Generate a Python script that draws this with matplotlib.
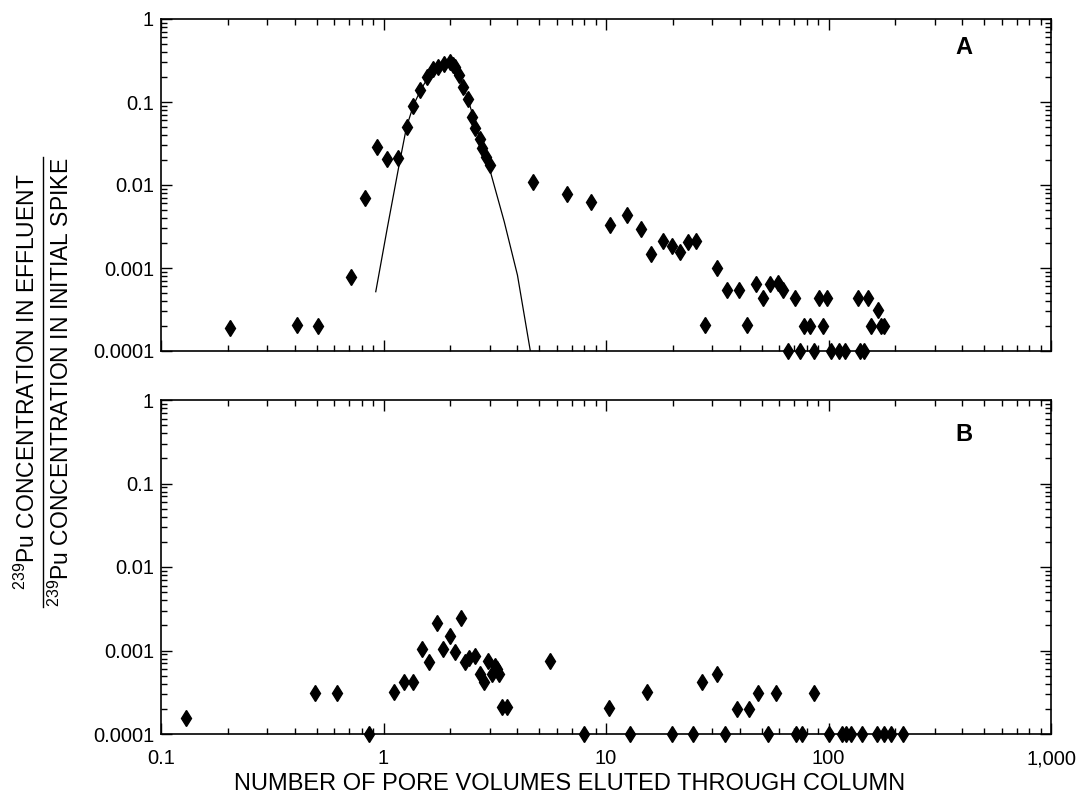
import matplotlib
matplotlib.use("Agg")
import matplotlib.pyplot as plt
from matplotlib.ticker import LogLocator, FixedLocator, FixedFormatter, NullFormatter
from matplotlib.lines import Line2D

plt.rcParams['font.family'] = ['Liberation Sans', 'DejaVu Sans']
plt.rcParams['mathtext.fontset'] = 'custom'
plt.rcParams['mathtext.rm'] = 'Liberation Sans'
plt.rcParams['mathtext.it'] = 'Liberation Sans'

# ---- Panel A data ----
a_x = [0.204, 0.41, 0.51, 0.715, 0.826, 0.936, 1.04, 1.16, 1.27, 1.36, 1.46, 1.57, 1.67,
       1.75, 1.87, 1.99, 2.05, 2.09, 2.19, 2.28, 2.39, 2.50, 2.58, 2.71, 2.76, 2.88, 3.01,
       4.71, 6.65, 8.56, 10.45, 12.4, 14.4, 16.0, 18.0, 19.9, 21.5, 23.3, 25.5, 27.8, 31.6,
       35.1, 39.7, 43.2, 47.1, 51.0, 54.8, 59.2, 62.5, 66.1, 70.8, 74.3, 77.8, 82.5, 86.5,
       90.2, 94.7, 98.0, 103, 112, 119, 136, 139, 145, 151, 156, 167, 173, 178]
a_y = [1.88e-4, 2.06e-4, 2.0e-4, 7.7e-4, 6.97e-3, 0.029, 0.0206, 0.0211, 0.0496, 0.090,
       0.138, 0.198, 0.252, 0.266, 0.287, 0.306, 0.279, 0.266, 0.21, 0.150, 0.110, 0.0665,
       0.048, 0.0355, 0.0282, 0.0219, 0.0173, 0.011, 0.00785, 0.00618, 3.33e-3, 4.31e-3,
       2.98e-3, 1.46e-3, 2.13e-3, 1.84e-3, 1.55e-3, 2.04e-3, 2.1e-3, 2.07e-4, 1.01e-3,
       5.48e-4, 5.48e-4, 2.07e-4, 6.5e-4, 4.3e-4, 6.5e-4, 6.6e-4, 5.4e-4, 1e-4, 4.3e-4,
       1e-4, 2.0e-4, 2.0e-4, 1e-4, 4.3e-4, 2.0e-4, 4.3e-4, 1e-4, 1e-4, 1e-4, 4.3e-4, 1e-4,
       1e-4, 4.3e-4, 2.0e-4, 3.15e-4, 2.0e-4, 2.0e-4]

# fitted curve in panel A
curve_x = [0.923, 1.04, 1.175, 1.27, 1.365, 1.47, 1.59, 1.75, 1.99, 2.19, 2.39, 2.65,
           2.98, 3.49, 4.0, 4.57]
curve_y = [5.18e-4, 3.03e-3, 0.0174, 0.0504, 0.092, 0.14, 0.2, 0.266, 0.32, 0.211, 0.111,
           0.0439, 0.0166, 3.6e-3, 8.2e-4, 1.0e-4]

# ---- Panel B data ----
b_x = [0.130, 0.49, 0.616, 0.865, 1.11, 1.24, 1.36, 1.49, 1.60, 1.74, 1.86, 1.99, 2.09,
       2.24, 2.33, 2.43, 2.59, 2.71, 2.82, 2.96, 3.06, 3.18, 3.23, 3.31, 3.42, 3.59, 5.62,
       7.98, 10.35, 12.8, 15.3, 19.8, 24.6, 27.0, 31.6, 34.4, 38.7, 43.9, 48.4, 53.4, 58.2,
       71.4, 76.4, 86.5, 101, 115, 120, 126, 141, 165, 178, 191, 217]
b_y = [1.57e-4, 3.07e-4, 3.1e-4, 1e-4, 3.2e-4, 4.16e-4, 4.16e-4, 1.05e-3, 7.3e-4, 2.13e-3,
       1.05e-3, 1.49e-3, 9.5e-4, 2.43e-3, 7.3e-4, 8.2e-4, 8.7e-4, 5.3e-4, 4.2e-4, 7.5e-4,
       5.3e-4, 6.5e-4, 6.0e-4, 5.3e-4, 2.1e-4, 2.1e-4, 7.5e-4, 1e-4, 2.06e-4, 1e-4, 3.2e-4,
       1e-4, 1e-4, 4.16e-4, 5.3e-4, 1e-4, 2.0e-4, 2.0e-4, 3.1e-4, 1e-4, 3.1e-4, 1e-4, 1e-4,
       3.1e-4, 1e-4, 1e-4, 1e-4, 1e-4, 1e-4, 1e-4, 1e-4, 1e-4, 1e-4]

x_ticks = [0.1, 1, 10, 100, 1000]
x_ticklabels = ['0.1', '1', '10', '100', '1,000']
y_ticks = [1e-4, 1e-3, 1e-2, 1e-1, 1]
y_ticklabels = ['0.0001', '0.001', '0.01', '0.1', '1']

fig = plt.figure(figsize=(10.81, 7.99), dpi=100)
W, H = 1081, 799
def rect(l, t, r, b):
    return [l / W, 1 - b / H, (r - l) / W, (b - t) / H]

axA = fig.add_axes(rect(161, 19, 1051, 351))
axB = fig.add_axes(rect(161, 400, 1051, 734))

def style(ax, show_x):
    ax.set_xscale('log')
    ax.set_yscale('log')
    ax.set_xlim(0.1, 1000)
    ax.set_ylim(1e-4, 1)
    ax.xaxis.set_major_locator(FixedLocator(x_ticks))
    ax.xaxis.set_minor_locator(LogLocator(base=10, subs=range(2, 10), numticks=20))
    ax.yaxis.set_major_locator(FixedLocator(y_ticks))
    ax.yaxis.set_minor_locator(LogLocator(base=10, subs=range(2, 10), numticks=20))
    ax.yaxis.set_major_formatter(FixedFormatter(y_ticklabels))
    ax.yaxis.set_minor_formatter(NullFormatter())
    ax.xaxis.set_minor_formatter(NullFormatter())
    if show_x:
        ax.xaxis.set_major_formatter(FixedFormatter(x_ticklabels))
    else:
        ax.xaxis.set_major_formatter(NullFormatter())
    ax.tick_params(which='both', direction='in', top=True, right=True, width=1.0,
                   labelsize=14.5, colors='black')
    ax.tick_params(which='major', length=8, pad=5)
    ax.tick_params(axis='x', which='major', pad=11)
    ax.tick_params(which='minor', length=4.5)
    for s in ax.spines.values():
        s.set_linewidth(1.2)

style(axA, False)
style(axB, True)

axA.plot(curve_x, curve_y, color='black', lw=0.9, zorder=2)
axA.plot(a_x, a_y, linestyle='none', marker='d', color='black', ms=8.3, clip_on=False, zorder=3)
axB.plot(b_x, b_y, linestyle='none', marker='d', color='black', ms=8.3, clip_on=False, zorder=3)

axA.text(0.902, 0.913, 'A', transform=axA.transAxes, fontsize=17, fontweight='bold',
         ha='center', va='center')
axB.text(0.902, 0.898, 'B', transform=axB.transAxes, fontsize=17, fontweight='bold',
         ha='center', va='center')

fig.text(570 / W, 1 - 784 / H, 'NUMBER OF PORE VOLUMES ELUTED THROUGH COLUMN',
         fontsize=17, ha='center', va='center')

# y label as a fraction
yc = 1 - 382 / H
t1 = fig.text(27 / W, yc, r'$^{239}$Pu CONCENTRATION IN EFFLUENT', rotation=90,
              fontsize=16.5, ha='center', va='center')
t2 = fig.text(61 / W, yc, r'$^{239}$Pu CONCENTRATION IN INITIAL SPIKE', rotation=90,
              fontsize=16.5, ha='center', va='center')
fig.canvas.draw()
bb = t2.get_window_extent()
y0 = bb.y0 / H
y1 = bb.y1 / H
fig.add_artist(Line2D([43 / W, 43 / W], [y0, y1], transform=fig.transFigure,
                      color='black', lw=1.0))

fig.savefig('out.png', dpi=100)
